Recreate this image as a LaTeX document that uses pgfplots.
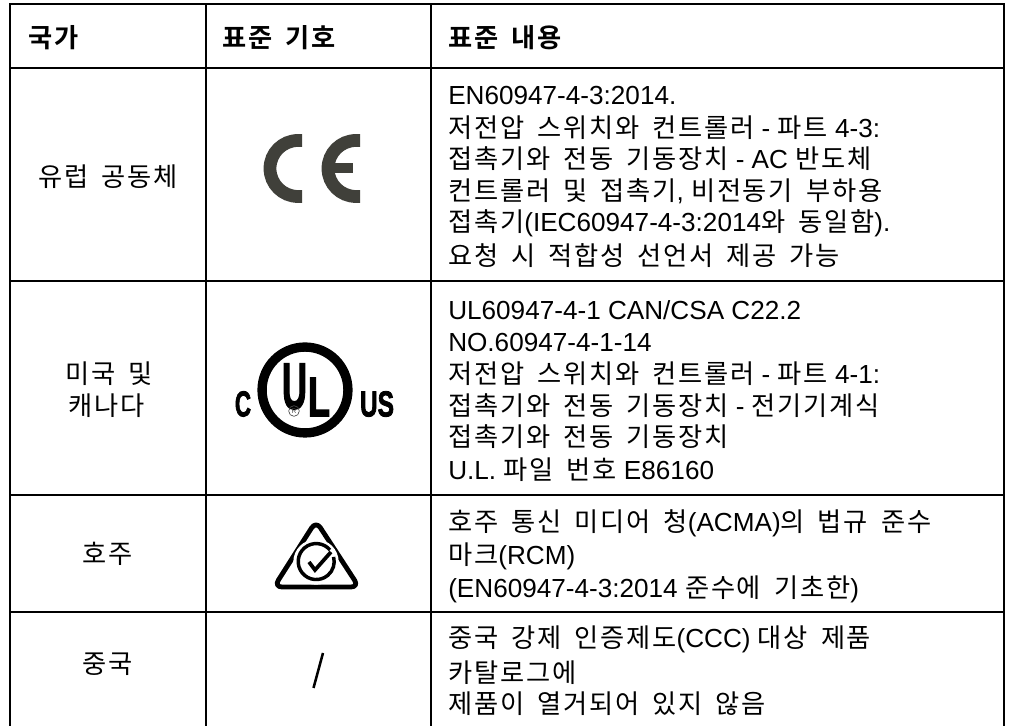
\documentclass[border=0pt]{standalone}
\usepackage{fontspec}
\usepackage{pgfplots}
\pgfplotsset{compat=1.18}
\setmainfont{Liberation Sans}
\newfontfamily\kr[LetterSpace=6.8,WordSpace=1.7]{Noto Sans CJK KR}
\newfontfamily\krb[LetterSpace=6.8,WordSpace=1.7]{Noto Sans CJK KR Bold}
\newfontfamily\ulf[FakeBold=2.5]{Liberation Sans Bold}
\definecolor{cegray}{HTML}{40403A}
\newcommand{\K}[1]{{\kr\fontsize{19.7pt}{20pt}\selectfont #1}}
\newcommand{\KB}[1]{{\krb\fontsize{19.7pt}{20pt}\selectfont #1}}
\newcommand{\TL}[3]{\node[anchor=base west,inner sep=0pt,font=\fontsize{19.6pt}{22pt}\selectfont] at (axis cs:#1,-#2) {#3};}
\newcommand{\TC}[3]{\node[anchor=base,inner sep=0pt,font=\fontsize{19.6pt}{22pt}\selectfont] at (axis cs:#1,-#2) {#3};}
\begin{document}
\begin{tikzpicture}
\begin{axis}[
  scale only axis, width=758.25pt, height=544.5pt,
  xmin=0, xmax=1011, ymin=-726, ymax=0,
  hide axis, clip=false,
]
\path (axis cs:0,-726) rectangle (axis cs:1011,0);
% grid
\addplot[black,line width=1.9pt,forget plot] coordinates {(10,-726) (10,-4) (1004,-4) (1004,-726)};
\addplot[black,line width=1.9pt,forget plot] coordinates {(206,-4) (206,-726)};
\addplot[black,line width=1.9pt,forget plot] coordinates {(431,-4) (431,-726)};
\addplot[black,line width=1.9pt,forget plot] coordinates {(10,-68) (1004,-68)};
\addplot[black,line width=1.9pt,forget plot] coordinates {(10,-281) (1004,-281)};
\addplot[black,line width=1.9pt,forget plot] coordinates {(10,-495) (1004,-495)};
\addplot[black,line width=1.9pt,forget plot] coordinates {(10,-612) (1004,-612)};
% header
\TL{28}{47.5}{\KB{국가}}
\TL{222}{47.5}{\KB{표준 기호}}
\TL{448}{47.5}{\KB{표준 내용}}
% col 1
\TC{108}{186.5}{\K{유럽 공동체}}
\TC{109}{384}{\K{미국 및}}
\TC{107}{415.5}{\K{캐나다}}
\TC{108}{563.5}{\K{호주}}
\TC{108}{673.5}{\K{중국}}
% col 3
\TL{448}{105}{EN60947-4-3:2014.}
\TL{448}{138}{\K{저전압 스위치와 컨트롤러} - \K{파트} 4-3:}
\TL{448}{169}{\K{접촉기와 전동 기동장치} - AC \K{반도체}}
\TL{448}{201}{\K{컨트롤러 및 접촉기}, \K{비전동기 부하용}}
\TL{448}{232}{\K{접촉기}(IEC60947-4-3:2014\K{와 동일함}).}
\TL{448}{266}{\K{요청 시 적합성 선언서 제공 가능}}
\TL{448}{319.5}{UL60947-4-1 CAN/CSA C22.2}
\TL{448}{352}{NO.60947-4-1-14}
\TL{448}{384}{\K{저전압 스위치와 컨트롤러} - \K{파트} 4-1:}
\TL{448}{416}{\K{접촉기와 전동 기동장치} - \K{전기기계식}}
\TL{448}{447}{\K{접촉기와 전동 기동장치}}
\TL{448}{479.5}{U.L. \K{파일 번호} E86160}
\TL{448}{532}{\K{호주 통신 미디어 청}(ACMA)\K{의 법규 준수}}
\TL{448}{565}{\K{마크}(RCM)}
\TL{448}{598}{(EN60947-4-3:2014 \K{준수에 기초한})}
\TL{448}{648}{\K{중국 강제 인증제도}(CCC) \K{대상 제품}}
\TL{448}{683}{\K{카탈로그에}}
\TL{448}{714}{\K{제품이 열거되어 있지 않음}}
% CE logo
\draw[cegray,line width=9.6pt] (302,-140.5) -- (298,-140.5) arc[start angle=90,end angle=270,radius=21pt] -- (302,-196.5);
\draw[cegray,line width=9.6pt] (360,-140.5) -- (356,-140.5) arc[start angle=90,end angle=270,radius=21pt] -- (360,-196.5);
\draw[cegray,line width=7.5pt] (330,-168.5) -- (353,-168.5);
% UL logo
\draw[black,line width=7pt] (305,-390) circle[radius=32.2pt];
\node[inner sep=0pt,font=\ulf\fontsize{49pt}{49pt}\selectfont] at (axis cs:294.5,-386.5) {\scalebox{0.53}[1]{U}};
\node[inner sep=0pt,font=\ulf\fontsize{42pt}{42pt}\selectfont] at (axis cs:319,-397) {\scalebox{0.65}[1]{L}};
\node[inner sep=0pt,font=\ulf\fontsize{27pt}{27pt}\selectfont] at (axis cs:243,-404) {\scalebox{0.62}[1]{C}};
\node[inner sep=0pt,font=\ulf\fontsize{27pt}{27pt}\selectfont] at (axis cs:377,-404) {\scalebox{0.68}[1]{US}};
\draw[black!70,line width=0.5pt] (294,-411) circle[radius=4pt];
\node[inner sep=0pt,text=black!70,font=\fontsize{5pt}{5pt}\selectfont] at (axis cs:294,-411) {R};
% RCM logo
\draw[black,line width=3.6pt,line join=round,rounded corners=6pt] (316,-521) -- (359,-587) -- (274,-587) -- cycle;
\draw[white,line width=7pt] (316,-562) circle[radius=13.5pt];
\draw[black,line width=2.6pt] (330,-550) arc[start angle=40,end angle=375,radius=13.5pt];
\draw[black,line width=2.8pt] (309,-562) -- (315,-570) -- (331,-552);
% slash
\addplot[black,line width=1.9pt,forget plot] coordinates {(313.5,-688) (323,-653)};
\end{axis}
\end{tikzpicture}
\end{document}
